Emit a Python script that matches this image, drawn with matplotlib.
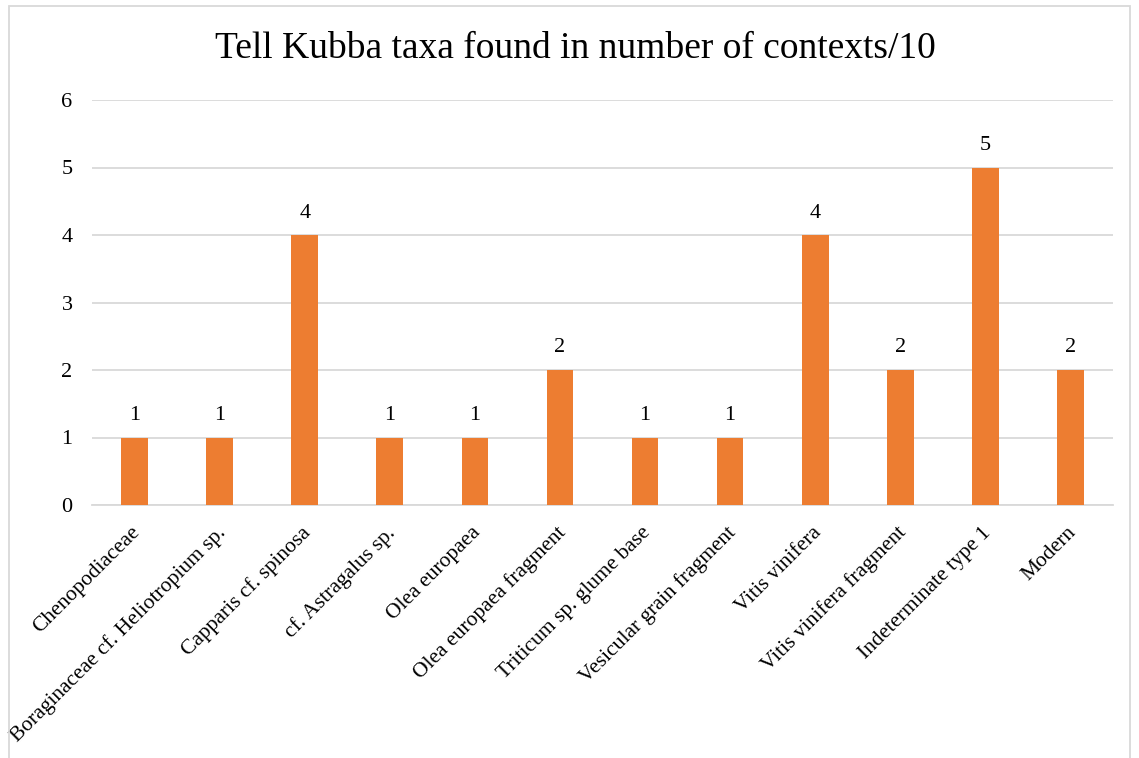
import matplotlib
matplotlib.use("Agg")
import matplotlib.pyplot as plt
from matplotlib.patches import Rectangle
from matplotlib.transforms import ScaledTranslation

categories = ["Chenopodiaceae", "Boraginaceae cf. Heliotropium sp.", "Capparis cf. spinosa",
              "cf. Astragalus sp.", "Olea europaea", "Olea europaea fragment",
              "Triticum sp. glume base", "Vesicular grain fragment", "Vitis vinifera",
              "Vitis vinifera fragment", "Indeterminate type 1", "Modern"]
values = [1, 1, 4, 1, 1, 2, 1, 1, 4, 2, 5, 2]
yticks = [0, 1, 2, 3, 4, 5, 6]
title = "Tell Kubba taxa found in number of contexts/10"

plt.rcParams['font.family'] = ['Liberation Serif', 'DejaVu Serif']

fig = plt.figure(figsize=(11.39, 7.58), dpi=100)
ax = fig.add_axes([92/1139, 1-505/758, (1113-92)/1139, (505-100)/758])

x = list(range(len(categories)))
bars = ax.bar(x, values, width=0.313, color="#ED7D31", zorder=3)
for xi, v in zip(x, values):
    ax.annotate(str(v), (xi, v), xytext=(0, 9), textcoords="offset points",
                ha="center", va="bottom", fontsize=16)

ax.set_xlim(-0.5, len(categories) - 0.5)
ax.set_ylim(0, 6)
ax.set_yticks(yticks)
ax.set_yticklabels([str(t) for t in yticks], fontsize=16)
ax.yaxis.grid(True, color="#D9D9D9", linewidth=1.3, zorder=0)
ax.set_xticks(x)
ax.set_xticklabels(categories, rotation=45, ha="right", va="center",
                   rotation_mode="anchor", fontsize=15.5)
ax.tick_params(axis="y", length=0, pad=14)
ax.tick_params(axis="x", length=0, pad=18)
shift = ScaledTranslation(3/100, 0, fig.dpi_scale_trans)
for lbl in ax.get_xticklabels():
    lbl.set_transform(lbl.get_transform() + shift)
for s in ["top", "right", "left"]:
    ax.spines[s].set_visible(False)
ax.spines["bottom"].set_color("#D9D9D9")
ax.spines["bottom"].set_linewidth(1.3)

fig.text(575/1139, 1-49/758, title, ha="center", va="center", fontsize=27)

fig.patches.append(Rectangle((9/1139, -0.01), (1130-9)/1139, 1-6/758+0.01, transform=fig.transFigure,
                             fill=False, edgecolor="#D9D9D9", linewidth=1.3))

fig.savefig("out.png", dpi=100)
